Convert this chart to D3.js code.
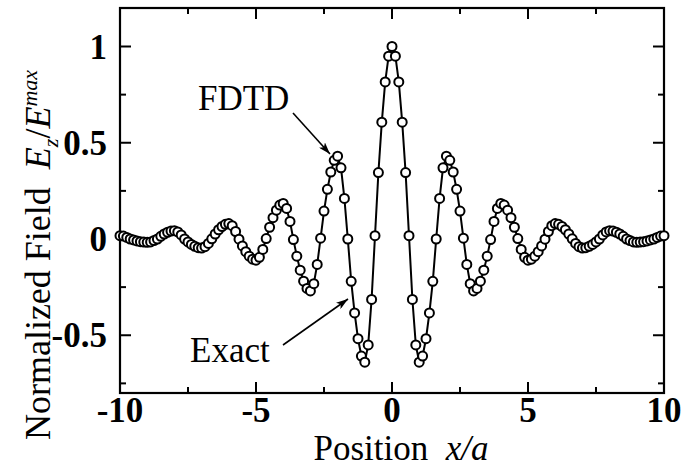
<!DOCTYPE html>
<html>
<head>
<meta charset="utf-8">
<script src="https://cdn.jsdelivr.net/npm/d3@7"></script>
<style>
  html, body { margin: 0; padding: 0; background: #fff; }
  svg { display: block; }
  text { font-family: "Liberation Serif", "Times New Roman", serif; fill: #000; }
</style>
</head>
<body>
<svg id="chart" width="682" height="468"></svg>
<script>
// ---- data ----
const xStart = -10;
const xStep = 0.125;
const fieldValues = [
  0.017, 0.015, 0.008, 0.0, -0.005, -0.01, -0.014, -0.016,
  -0.017, -0.015, -0.008, 0.0, 0.014, 0.026, 0.035, 0.041,
  0.043, 0.037, 0.021, 0.0, -0.015, -0.028, -0.038, -0.045,
  -0.047, -0.04, -0.023, 0.001, 0.026, 0.048, 0.065, 0.076,
  0.08, 0.069, 0.039, -0.001, -0.036, -0.066, -0.089, -0.105,
  -0.11, -0.095, -0.054, 0.002, 0.061, 0.111, 0.15, 0.176,
  0.185, 0.159, 0.091, -0.003, -0.089, -0.162, -0.219, -0.257,
  -0.27, -0.232, -0.132, 0.004, 0.145, 0.258, 0.348, 0.409,
  0.43, 0.37, 0.211, 0.0, -0.22, -0.384, -0.518, -0.608,
  -0.64, -0.55, -0.314, 0.017, 0.345, 0.607, 0.816, 0.95,
  1.0,
  0.95, 0.816, 0.607, 0.345, 0.017, -0.314, -0.55, -0.64,
  -0.608, -0.518, -0.384, -0.22, 0.0, 0.211, 0.37, 0.43,
  0.409, 0.348, 0.258, 0.145, 0.004, -0.132, -0.232, -0.27,
  -0.257, -0.219, -0.162, -0.089, -0.003, 0.091, 0.159, 0.185,
  0.176, 0.15, 0.111, 0.061, 0.002, -0.054, -0.095, -0.11,
  -0.105, -0.089, -0.066, -0.036, -0.001, 0.039, 0.069, 0.08,
  0.076, 0.065, 0.048, 0.026, 0.001, -0.023, -0.04, -0.047,
  -0.045, -0.038, -0.028, -0.015, 0.0, 0.021, 0.037, 0.043,
  0.041, 0.035, 0.026, 0.014, 0.0, -0.008, -0.015, -0.017,
  -0.016, -0.014, -0.01, -0.005, 0.0, 0.008, 0.015, 0.017
];
const xMajorTicks = [-10, -5, 0, 5, 10];
const xMinorTicks = [-7.5, -2.5, 2.5, 7.5];
const xTickLabels = ["-10", "-5", "0", "5", "10"];
const yMajorTicks = [-0.5, 0, 0.5, 1];
const yMinorTicks = [-0.75, -0.25, 0.25, 0.75];
const yTickLabels = ["-0.5", "0", "0.5", "1"];

const points = fieldValues.map((v, i) => ({ x: xStart + i * xStep, y: v }));

// ---- layout ----
const svg = d3.select("#chart");
const mLeft = 120, mRight = 664, mTop = 8, mBottom = 393;
const x = d3.scaleLinear().domain([-10, 10]).range([mLeft, mRight]);
const y = d3.scaleLinear().domain([-0.8, 1.2]).range([mBottom, mTop]);

const majorLen = 11, minorLen = 6;
const g = svg.append("g");

// frame
g.append("rect")
  .attr("x", mLeft).attr("y", mTop)
  .attr("width", mRight - mLeft).attr("height", mBottom - mTop)
  .attr("fill", "none").attr("stroke", "#000").attr("stroke-width", 2.2);

// ticks (inward, all four sides)
const xt = xMajorTicks.map(v => ({ v, len: majorLen })).concat(xMinorTicks.map(v => ({ v, len: minorLen })));
xt.forEach(t => {
  g.append("line").attr("x1", x(t.v)).attr("x2", x(t.v)).attr("y1", mBottom).attr("y2", mBottom - t.len)
    .attr("stroke", "#000").attr("stroke-width", 2);
  g.append("line").attr("x1", x(t.v)).attr("x2", x(t.v)).attr("y1", mTop).attr("y2", mTop + t.len)
    .attr("stroke", "#000").attr("stroke-width", 2);
});
const yt = yMajorTicks.map(v => ({ v, len: majorLen })).concat(yMinorTicks.map(v => ({ v, len: minorLen })));
yt.forEach(t => {
  g.append("line").attr("x1", mLeft).attr("x2", mLeft + t.len).attr("y1", y(t.v)).attr("y2", y(t.v))
    .attr("stroke", "#000").attr("stroke-width", 2);
  g.append("line").attr("x1", mRight).attr("x2", mRight - t.len).attr("y1", y(t.v)).attr("y2", y(t.v))
    .attr("stroke", "#000").attr("stroke-width", 2);
});

// tick labels
xMajorTicks.forEach((v, i) => {
  g.append("text").attr("x", x(v)).attr("y", 422)
    .attr("text-anchor", "middle").attr("font-size", 35).attr("font-weight", "bold")
    .text(xTickLabels[i]);
});
yMajorTicks.forEach((v, i) => {
  g.append("text").attr("x", 107).attr("y", y(v) + 12)
    .attr("text-anchor", "end").attr("font-size", 35).attr("font-weight", "bold")
    .text(yTickLabels[i]);
});

// axis titles
const xt1 = g.append("text").attr("x", 401).attr("y", 460).attr("text-anchor", "middle").attr("font-size", 35);
xt1.append("tspan").text("Position\u00a0\u00a0");
xt1.append("tspan").attr("font-style", "italic").text("x/a");

const yTitle = g.append("text")
  .attr("transform", "translate(50,255) rotate(-90)")
  .attr("text-anchor", "middle").attr("font-size", 36);
yTitle.append("tspan").text("Normalized Field\u00a0\u00a0");
yTitle.append("tspan").attr("font-style", "italic").text("E");
yTitle.append("tspan").attr("font-style", "italic").attr("font-size", 22).attr("dy", 8).text("z");
yTitle.append("tspan").attr("dy", -8).text("/");
yTitle.append("tspan").attr("font-style", "italic").text("E");
yTitle.append("tspan").attr("font-style", "italic").attr("font-size", 22).attr("dy", -13).text("max");

// exact line
const line = d3.line().x(d => x(d.x)).y(d => y(d.y));
g.append("path").datum(points).attr("d", line)
  .attr("fill", "none").attr("stroke", "#000").attr("stroke-width", 2);

// FDTD circles
g.selectAll("circle.pt").data(points).enter().append("circle")
  .attr("class", "pt")
  .attr("cx", d => x(d.x)).attr("cy", d => y(d.y)).attr("r", 4.5)
  .attr("fill", "#fff").attr("stroke", "#000").attr("stroke-width", 2);

// annotations
const defs = svg.append("defs");
defs.append("marker").attr("id", "arr").attr("viewBox", "0 0 12 8")
  .attr("refX", 12).attr("refY", 4).attr("markerWidth", 12).attr("markerHeight", 8)
  .attr("markerUnits", "userSpaceOnUse").attr("orient", "auto")
  .append("path").attr("d", "M0,0 L12,4 L0,8 L3,4 Z").attr("fill", "#000");

g.append("text").attr("x", 198).attr("y", 110).attr("font-size", 35).text("FDTD");
g.append("line").attr("x1", 293).attr("y1", 113).attr("x2", 330).attr("y2", 154)
  .attr("stroke", "#000").attr("stroke-width", 1.6).attr("marker-end", "url(#arr)");

g.append("text").attr("x", 190).attr("y", 362).attr("font-size", 35).text("Exact");
g.append("line").attr("x1", 283).attr("y1", 345).attr("x2", 348).attr("y2", 299)
  .attr("stroke", "#000").attr("stroke-width", 1.6).attr("marker-end", "url(#arr)");
</script>
</body>
</html>
